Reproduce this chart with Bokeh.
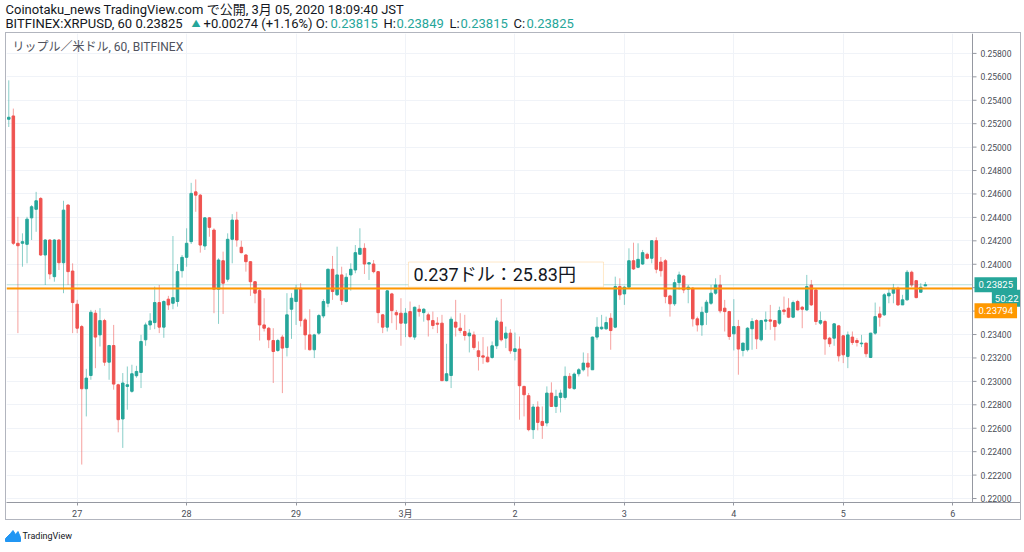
from bokeh.plotting import figure
from bokeh.models import (ColumnDataSource, FixedTicker, PrintfTickFormatter, Span, Label,
                          BoxAnnotation, Range1d)
from bokeh.layouts import column
from bokeh.embed import file_html
from bokeh.resources import INLINE
from bokeh.core.properties import value

# ---------------- data (hourly XRP/USD candles, BITFINEX) ----------------
first_candle_hour = 9   # first candle: Feb 26, 09:00

opens = [
    0.25238, 0.25266, 0.24179, 0.24179, 0.24170, 0.24396, 0.24469, 0.24562, 0.24079, 0.24207,
    0.23894, 0.24207, 0.24013, 0.24505, 0.23942, 0.23659, 0.23468, 0.22937, 0.23050, 0.23582,
    0.23397, 0.23519, 0.23164, 0.23306, 0.22971, 0.22679, 0.22957, 0.22915, 0.23048, 0.23076,
    0.23355, 0.23482, 0.23502, 0.23673, 0.23463, 0.23702, 0.23667, 0.23682, 0.23945, 0.24059,
    0.24193, 0.24618, 0.24590, 0.24156, 0.24396, 0.24292, 0.23787, 0.24030, 0.23872, 0.24213,
    0.24377, 0.24145, 0.24079, 0.24022, 0.23851, 0.23775, 0.23482, 0.23454, 0.23349, 0.23264,
    0.23378, 0.23289, 0.23616, 0.23682, 0.23795, 0.23525, 0.23397, 0.23270, 0.23412, 0.23559,
    0.23667, 0.23957, 0.23739, 0.23909, 0.23682, 0.23909, 0.23951, 0.24085, 0.24136, 0.24002,
    0.24002, 0.23937, 0.23568, 0.23463, 0.23747, 0.23587, 0.23582, 0.23497, 0.23596, 0.23378,
    0.23616, 0.23587, 0.23568, 0.23519, 0.23497, 0.23497, 0.23006, 0.23050, 0.23506, 0.23454,
    0.23426, 0.23389, 0.23397, 0.23261, 0.23218, 0.23207, 0.23204, 0.23304, 0.23506, 0.23369,
    0.23412, 0.23255, 0.23276, 0.22957, 0.22878, 0.22588, 0.22781, 0.22658, 0.22645, 0.22900,
    0.22786, 0.22863, 0.22863, 0.23043, 0.22938, 0.23065, 0.23099, 0.23156, 0.23099, 0.23378,
    0.23449, 0.23449, 0.23539, 0.23463, 0.23809, 0.23747, 0.23804, 0.24030, 0.23974, 0.24002,
    0.24085, 0.24051, 0.24201, 0.24019, 0.24030, 0.23730, 0.23662, 0.23843, 0.23900, 0.23787,
    0.23795, 0.23534, 0.23482, 0.23590, 0.23667, 0.23753, 0.23823, 0.23625, 0.23596, 0.23406,
    0.23468, 0.23264, 0.23270, 0.23449, 0.23519, 0.23355, 0.23514, 0.23525, 0.23519, 0.23497,
    0.23610, 0.23625, 0.23548, 0.23682, 0.23633, 0.23610, 0.23823, 0.23781, 0.23497, 0.23511,
    0.23369, 0.23369, 0.23474, 0.23389, 0.23213, 0.23378, 0.23349, 0.23321, 0.23327, 0.23204,
    0.23412, 0.23576, 0.23568, 0.23730, 0.23753, 0.23795, 0.23653, 0.23696, 0.23932, 0.23860,
    0.23761, 0.23815,
]
highs = [
    0.25570, 0.25329, 0.24405, 0.24264, 0.24405, 0.24505, 0.24618, 0.24573, 0.24215, 0.24215,
    0.24215, 0.24215, 0.24542, 0.24514, 0.24008, 0.23696, 0.23482, 0.23107, 0.23610, 0.23610,
    0.23625, 0.23534, 0.23312, 0.23482, 0.22980, 0.23071, 0.23127, 0.23142, 0.23133, 0.23397,
    0.23502, 0.23582, 0.23809, 0.23823, 0.23692, 0.23730, 0.24241, 0.24002, 0.24079, 0.24307,
    0.24695, 0.24724, 0.24600, 0.24403, 0.24403, 0.24307, 0.24051, 0.24108, 0.24264, 0.24428,
    0.24448, 0.24201, 0.24087, 0.24028, 0.23857, 0.23789, 0.23710, 0.23465, 0.23454, 0.23363,
    0.23397, 0.23753, 0.23753, 0.23823, 0.23838, 0.23542, 0.23616, 0.23406, 0.23576, 0.23702,
    0.23964, 0.24071, 0.24150, 0.23979, 0.23923, 0.24008, 0.24164, 0.24307, 0.24179, 0.24019,
    0.24036, 0.23942, 0.23576, 0.23781, 0.23756, 0.23610, 0.23710, 0.23625, 0.23682, 0.23638,
    0.23653, 0.23625, 0.23587, 0.23596, 0.23548, 0.23568, 0.23321, 0.23553, 0.23696, 0.23582,
    0.23568, 0.23446, 0.23426, 0.23341, 0.23378, 0.23298, 0.23341, 0.23545, 0.23704, 0.23468,
    0.23446, 0.23417, 0.23383, 0.22963, 0.22901, 0.22807, 0.22830, 0.22786, 0.22957, 0.22992,
    0.22929, 0.22929, 0.23127, 0.23071, 0.23076, 0.23114, 0.23247, 0.23241, 0.23383, 0.23548,
    0.23568, 0.23553, 0.23582, 0.23894, 0.23880, 0.23815, 0.24136, 0.24184, 0.24179, 0.24122,
    0.24099, 0.24207, 0.24230, 0.24062, 0.24045, 0.23739, 0.23872, 0.23937, 0.23909, 0.23823,
    0.23806, 0.23553, 0.23638, 0.23696, 0.23823, 0.23880, 0.23909, 0.23696, 0.23602, 0.23702,
    0.23525, 0.23329, 0.23463, 0.23540, 0.23531, 0.23525, 0.23596, 0.23653, 0.23525, 0.23638,
    0.23724, 0.23710, 0.23690, 0.23696, 0.23644, 0.23909, 0.23866, 0.23789, 0.23596, 0.23525,
    0.23380, 0.23497, 0.23482, 0.23397, 0.23426, 0.23426, 0.23369, 0.23397, 0.23329, 0.23414,
    0.23673, 0.23638, 0.23753, 0.23795, 0.23832, 0.23809, 0.23739, 0.23951, 0.23945, 0.23866,
    0.23838, 0.23849,
]
lows = [
    0.25172, 0.24164, 0.23412, 0.23979, 0.24008, 0.24207, 0.24277, 0.24071, 0.23823, 0.23872,
    0.23851, 0.23951, 0.23753, 0.23823, 0.23412, 0.23412, 0.22290, 0.22701, 0.23014, 0.23113,
    0.23298, 0.23133, 0.23014, 0.22929, 0.22565, 0.22432, 0.22758, 0.22903, 0.23031, 0.22943,
    0.23304, 0.23440, 0.23446, 0.23412, 0.23372, 0.23610, 0.23616, 0.23638, 0.23886, 0.23979,
    0.24173, 0.24448, 0.24099, 0.24122, 0.24235, 0.23582, 0.23491, 0.23576, 0.23851, 0.24008,
    0.24150, 0.24093, 0.23937, 0.23730, 0.23667, 0.23349, 0.23426, 0.23284, 0.22986, 0.23252,
    0.22900, 0.23213, 0.23363, 0.23482, 0.23468, 0.23270, 0.23264, 0.23199, 0.23397, 0.23540,
    0.23633, 0.23696, 0.23730, 0.23653, 0.23673, 0.23775, 0.23923, 0.24085, 0.23917, 0.23866,
    0.23923, 0.23497, 0.23412, 0.23426, 0.23497, 0.23440, 0.23304, 0.23378, 0.23369, 0.23355,
    0.23553, 0.23510, 0.23383, 0.23446, 0.23412, 0.23006, 0.23000, 0.22943, 0.23383, 0.23412,
    0.23349, 0.23247, 0.23270, 0.23093, 0.23150, 0.23162, 0.23193, 0.23276, 0.23341, 0.23284,
    0.23236, 0.23179, 0.22673, 0.22701, 0.22574, 0.22509, 0.22582, 0.22509, 0.22616, 0.22784,
    0.22730, 0.22735, 0.22844, 0.22935, 0.22929, 0.23042, 0.23085, 0.23042, 0.23099, 0.23355,
    0.23440, 0.23440, 0.23270, 0.23454, 0.23696, 0.23653, 0.23795, 0.23951, 0.23966, 0.23994,
    0.24042, 0.24008, 0.23923, 0.23894, 0.23667, 0.23553, 0.23644, 0.23781, 0.23753, 0.23667,
    0.23468, 0.23426, 0.23389, 0.23482, 0.23653, 0.23739, 0.23582, 0.23426, 0.23355, 0.23264,
    0.23057, 0.23213, 0.23255, 0.23270, 0.23276, 0.23341, 0.23440, 0.23440, 0.23349, 0.23482,
    0.23568, 0.23540, 0.23540, 0.23606, 0.23454, 0.23602, 0.23644, 0.23482, 0.23482, 0.23227,
    0.23293, 0.23304, 0.23170, 0.23156, 0.23113, 0.23312, 0.23298, 0.23293, 0.23207, 0.23199,
    0.23397, 0.23468, 0.23559, 0.23667, 0.23667, 0.23644, 0.23653, 0.23690, 0.23804, 0.23710,
    0.23761, 0.23815,
]
closes = [
    0.25255, 0.24179, 0.24158, 0.24193, 0.24385, 0.24491, 0.24542, 0.24079, 0.24207, 0.23917,
    0.24207, 0.24013, 0.24462, 0.23937, 0.23673, 0.23454, 0.22937, 0.23028, 0.23590, 0.23378,
    0.23519, 0.23164, 0.23306, 0.22977, 0.22673, 0.22986, 0.22971, 0.23065, 0.23085, 0.23341,
    0.23482, 0.23516, 0.23673, 0.23463, 0.23682, 0.23653, 0.23715, 0.23937, 0.24059, 0.24179,
    0.24605, 0.24590, 0.24164, 0.24396, 0.24315, 0.23787, 0.24036, 0.23838, 0.24213, 0.24377,
    0.24207, 0.24099, 0.24022, 0.23851, 0.23753, 0.23482, 0.23454, 0.23355, 0.23255, 0.23349,
    0.23284, 0.23568, 0.23710, 0.23795, 0.23519, 0.23397, 0.23270, 0.23397, 0.23562, 0.23682,
    0.23957, 0.23767, 0.23909, 0.23690, 0.23889, 0.23957, 0.24099, 0.24136, 0.24002, 0.24013,
    0.23937, 0.23587, 0.23463, 0.23773, 0.23604, 0.23568, 0.23497, 0.23582, 0.23383, 0.23633,
    0.23596, 0.23616, 0.23525, 0.23477, 0.23488, 0.23006, 0.23065, 0.23531, 0.23463, 0.23434,
    0.23392, 0.23412, 0.23289, 0.23213, 0.23207, 0.23167, 0.23304, 0.23516, 0.23355, 0.23412,
    0.23261, 0.23278, 0.22963, 0.22886, 0.22588, 0.22781, 0.22650, 0.22624, 0.22900, 0.22786,
    0.22872, 0.22900, 0.23043, 0.22943, 0.23062, 0.23099, 0.23156, 0.23122, 0.23378, 0.23463,
    0.23463, 0.23502, 0.23434, 0.23809, 0.23739, 0.23804, 0.24030, 0.23960, 0.24042, 0.24099,
    0.24051, 0.24201, 0.23957, 0.23945, 0.23724, 0.23662, 0.23843, 0.23909, 0.23781, 0.23804,
    0.23534, 0.23482, 0.23590, 0.23676, 0.23753, 0.23823, 0.23602, 0.23596, 0.23383, 0.23468,
    0.23276, 0.23327, 0.23454, 0.23511, 0.23363, 0.23519, 0.23525, 0.23514, 0.23468, 0.23604,
    0.23596, 0.23548, 0.23673, 0.23610, 0.23616, 0.23809, 0.23653, 0.23511, 0.23519, 0.23361,
    0.23321, 0.23491, 0.23218, 0.23227, 0.23397, 0.23332, 0.23332, 0.23327, 0.23236, 0.23412,
    0.23553, 0.23548, 0.23739, 0.23753, 0.23795, 0.23653, 0.23696, 0.23932, 0.23823, 0.23715,
    0.23804, 0.23825,
]

day_labels = ["27", "28", "29", "3月", "2", "3", "4", "5", "6"]
y_ticks = [0.220, 0.222, 0.224, 0.226, 0.228, 0.230, 0.232, 0.234, 0.236, 0.238,
           0.240, 0.242, 0.244, 0.246, 0.248, 0.250, 0.252, 0.254, 0.256, 0.258]

last_price = 0.23825
ref_price = 0.23794          # orange horizontal line
countdown = "50:22"
note_text = "0.237ドル：25.83円"
symbol_text = "リップル／米ドル, 60, BITFINEX"

UP = "#26a69a"
DOWN = "#ef5350"
ORANGE = "#ff9800"
GRID = "#f0f3f8"
AXIS = "#9598a1"
TXT = "#131722"
FONT = "Roboto, Noto Sans CJK JP"

W = 1020

# ---------------- header ----------------
hdr = figure(width=W, height=32, x_range=Range1d(0, W), y_range=Range1d(0, 32),
             x_axis_type=None, y_axis_type=None, output_backend="svg",
             toolbar_location=None, min_border=0)
hdr.grid.visible = False
hdr.outline_line_color = None
hdr.background_fill_color = "white"

line1 = "Coinotaku_news TradingView.com で公開, 3月 05, 2020 18:09:40 JST"
hdr.text(x=[5], y=[23], text=[line1], text_font=value(FONT), text_font_size="13px",
         text_color=TXT, text_baseline="middle")

seg_text = ["BITFINEX:XRPUSD, 60 0.23825", "▲", "+0.00274 (+1.16%) O:", "0.23815",
            "H:", "0.23849", "L:", "0.23815", "C:", "0.23825"]
seg_x = [5, 191, 203, 330, 383, 396, 449, 460, 513, 526]
seg_col = [TXT, UP, TXT, UP, TXT, UP, TXT, UP, TXT, UP]
seg_size = ["13px", "9px"] + ["13px"] * 8
hdr.text(x=seg_x, y=[9] * len(seg_x), text=seg_text, text_color=seg_col,
         text_font=value(FONT), text_font_size=seg_size, text_baseline="middle")

# ---------------- main chart ----------------
pxh = 4.56                 # pixels per hourly candle
fig_w = 1016
chart_w = 966              # candle area; the price scale fills the rest of the frame
x_start = -0.5
x_end = x_start + fig_w / pxh
divider = x_start + chart_w / pxh
y_start, y_end = 0.21966, 0.25970

p = figure(width=fig_w, height=488,
           x_range=Range1d(x_start, x_end), y_range=Range1d(y_start, y_end),
           y_axis_location="right", output_backend="svg", toolbar_location=None,
           min_border_left=0, min_border_right=0, min_border_top=0,
           min_border_bottom=18,
           styles={"border": "1px solid #b2b5be", "margin-left": "5px"})
p.background_fill_color = "white"
p.border_fill_color = "white"
p.outline_line_color = None

p.grid.grid_line_color = GRID
p.grid.grid_line_width = 1

# price-scale area (white, no grid)
p.add_layout(BoxAnnotation(left=divider, fill_color="white", fill_alpha=1.0,
                           line_color=None, level="underlay"))
p.add_layout(Span(location=divider, dimension="height", line_color=AXIS, line_width=1))

n = len(opens)
xs = list(range(n))
colors = [UP if c >= o else DOWN for o, c in zip(opens, closes)]
src = ColumnDataSource(dict(
    x=xs, high=highs, low=lows,
    top=[max(o, c) for o, c in zip(opens, closes)],
    bottom=[min(o, c) for o, c in zip(opens, closes)],
    color=colors,
))
p.segment(x0="x", y0="high", x1="x", y1="low", source=src, line_color="color",
          line_alpha=0.55, line_width=1)
p.vbar(x="x", width=0.55, top="top", bottom="bottom", source=src,
       fill_color="color", line_color="color", line_width=1)

# last-price line and orange reference line (across the candle area)
p.segment(x0=[x_start], x1=[divider], y0=[last_price], y1=[last_price],
          line_color=UP, line_alpha=0.35, line_width=1)
p.segment(x0=[x_start], x1=[divider], y0=[ref_price], y1=[ref_price],
          line_color=ORANGE, line_width=2)

# axes
day_ticks = [24 - first_candle_hour + 24 * i for i in range(len(day_labels))]
p.xaxis.ticker = FixedTicker(ticks=day_ticks)
p.xaxis.major_label_overrides = {t: lab for t, lab in zip(day_ticks, day_labels)}
p.xaxis.major_label_text_font = FONT
p.xaxis.major_label_text_font_size = "9px"
p.xaxis.major_label_text_color = "#4a4e57"
p.xaxis.axis_line_color = AXIS
p.xaxis.major_tick_line_color = AXIS
p.xaxis.minor_tick_line_color = None
p.xaxis.major_tick_in = 0
p.xaxis.major_tick_out = 3
p.xaxis.major_label_standoff = 3

p.yaxis.ticker = FixedTicker(ticks=y_ticks)
p.yaxis.formatter = PrintfTickFormatter(format="%.5f")
p.yaxis.major_label_text_font = FONT
p.yaxis.major_label_text_font_size = "8.5px"
p.yaxis.major_label_text_color = "#4a4e57"
p.yaxis.axis_line_color = None
p.yaxis.major_tick_line_color = None
p.yaxis.minor_tick_line_color = None
p.yaxis.major_tick_in = 0
p.yaxis.major_tick_out = 0
p.yaxis.major_label_standoff = -(fig_w - chart_w - 8)   # labels sit inside the price-scale area

# small tick marks on the price scale
p.segment(x0=[divider] * len(y_ticks), x1=[divider + 4 / pxh] * len(y_ticks),
          y0=y_ticks, y1=y_ticks, line_color=AXIS, line_width=1)

# note box
box_left = (408 - 8.3) / pxh
box_right = (603 - 8.3) / pxh
p.add_layout(BoxAnnotation(left=box_left, right=box_right, top=0.24019, bottom=0.23805,
                           fill_color="white", fill_alpha=1.0,
                           line_color="#ffb74d", line_width=1))
p.add_layout(Label(x=box_left + 5 / pxh, y=0.23912, text=note_text,
                   text_font=FONT, text_font_size="18px", text_color=TXT,
                   text_baseline="middle", text_align="left"))

# symbol caption
p.add_layout(Label(x=x_start + 6 / pxh, y=0.25851, text=symbol_text,
                   text_font=FONT, text_font_size="12px", text_color="#50535e",
                   text_baseline="middle", text_align="left"))

# price tags on the price scale
tag_left = divider + 2 / pxh
tag_right = x_end - 1 / pxh
p.add_layout(Label(x=tag_left, y=last_price, text="0.23825", text_font=FONT,
                   text_font_size="9.5px", text_color="white", text_align="left",
                   text_baseline="middle", background_fill_color=UP, padding=4))
p.add_layout(Label(x=tag_right, y=0.23709, text=countdown, text_font=FONT,
                   text_font_size="9.5px", text_color="white", text_align="right",
                   text_baseline="middle", background_fill_color=UP, padding=3))
p.add_layout(Label(x=tag_left, y=0.23602, text="0.23794", text_font=FONT,
                   text_font_size="9.5px", text_color="white", text_align="left",
                   text_baseline="middle", background_fill_color=ORANGE, padding=4))

# ---------------- footer ----------------
ftr = figure(width=W, height=26, x_range=Range1d(0, W), y_range=Range1d(0, 26),
             x_axis_type=None, y_axis_type=None, output_backend="svg",
             toolbar_location=None, min_border=0)
ftr.grid.visible = False
ftr.outline_line_color = None
ftr.patch(x=[5, 20, 20, 17.5, 15, 12.5, 10, 5], y=[5, 5, 9, 15, 12, 16, 13, 8],
          fill_color="#2196f3", line_color="#2196f3")
ftr.text(x=[22], y=[11], text=["TradingView"], text_font=value(FONT),
         text_font_size="9px", text_color=TXT, text_baseline="middle")

layout = column(hdr, p, ftr, spacing=0)
open("out.html", "w").write(file_html(layout, INLINE))
